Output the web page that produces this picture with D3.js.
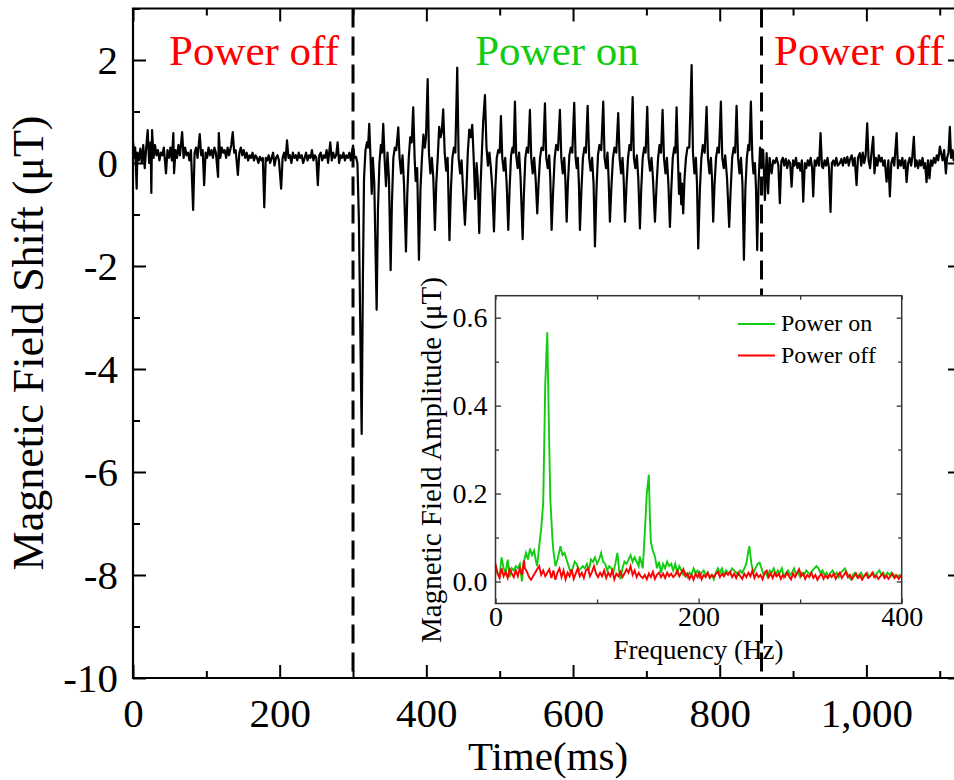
<html>
<head>
<meta charset="utf-8">
<style>
  body { margin: 0; background: #fff; }
  text { font-family: 'Liberation Serif', 'Times New Roman', serif; }
</style>
</head>
<body>
<div id="chart"></div>
<script src="https://cdn.jsdelivr.net/npm/d3@7"></script>
<script>
// main trace, [time ms, field µT]
var offBefore = [[0,0.42],[2,0.1],[3,0.3],[5,-0.5],[6,0.2],[8,0.05],[10,0.28],[12,0.0],[14,0.35],[16,-0.1],[18,0.3],[20,0.64],[22,0.0],[24,0.4],[25,-0.58],[26,0.64],[28,0.1],[30,0.35],[32,0.15],[34,0.25],[36,0.05],[38,0.2],[40,0.15],[42,0.3],[45,-0.2],[47,0.25],[49,0.1],[51,0.3],[53,0.05],[55,0.58],[56,-0.2],[58,0.25],[60,0.1],[62,0.35],[64,0.15],[67,0.6],[69,0.1],[71,0.3],[73,0.15],[75,0.2],[77,0.05],[79,0.25],[82,-0.91],[84,0.2],[86,0.3],[88,0.1],[91,0.56],[93,0.15],[95,0.25],[97,-0.43],[99,0.2],[101,0.1],[103,0.3],[105,0.15],[107,0.25],[109,0.1],[111,0.3],[113,0.2],[116,-0.27],[117,0.58],[119,0.1],[121,0.3],[123,0.2],[125,0.25],[127,0.1],[129,0.3],[131,0.15],[134,0.35],[136,0.6],[138,0.2],[140,0.25],[143,-0.23],[145,0.2],[147,0.3],[149,0.15],[151,0.25],[153,0.1],[155,0.2],[157,0.05],[159,0.15],[161,0.1],[163,0.2],[165,0.05],[167,0.15],[169,0.1],[171,0.0],[173,0.12],[175,0.05],[177,0.1],[179,-0.86],[181,0.1],[183,0.05],[185,0.15],[187,0.0],[189,0.1],[191,0.2],[193,-0.05],[195,0.1],[197,0.15],[199,0.05],[202,-0.5],[204,0.1],[206,0.2],[208,0.05],[210,0.44],[212,0.1],[214,0.15],[216,0.0],[218,0.2],[220,0.1],[222,0.15],[224,0.05],[226,0.2],[228,0.1],[230,0.15],[232,0.0],[234,0.1],[236,0.2],[238,0.05],[240,0.15],[242,0.1],[244,0.25],[246,0.05],[248,0.15],[250,0.1],[252,-0.43],[254,0.15],[256,0.2],[258,0.05],[260,0.15],[262,0.1],[264,0.25],[266,0.0],[269,0.4],[271,0.05],[273,0.2],[275,0.1],[277,0.15],[279,0.4],[281,0.0],[283,0.15],[285,0.1],[287,0.2],[289,0.05],[291,0.15],[293,0.1],[295,0.2],[297,0.05],[300,0.34],[302,0.1],[304,0.12],[306,0.0]];

var powerOn = [[308,-1.1],[311.8,-5.26],[313.5,-2.2],[315,-0.3],[317,0.25],[319,0.4],[320.5,0.3],[322.1,0.76],[324,0.05],[325.5,-0.6],[327,0.1],[329,-0.4],[332.2,-2.85],[334,-0.9],[336,0.0],[338,0.35],[339.5,0.2],[341.2,0.76],[343,0.1],[345,-0.45],[347,0.2],[349,-0.3],[351.3,-2.08],[353,-0.8],[355,0.1],[357,0.3],[359,0.25],[361.7,0.69],[363.5,0.1],[365.5,-0.2],[367.5,0.15],[369.5,-0.4],[372.2,-1.72],[374,-0.6],[376,0.1],[378,0.5],[380,0.4],[382.1,1.08],[384,0.1],[385.5,-0.35],[387.5,-0.1],[389.9,-1.88],[392,-0.5],[394,0.1],[396,0.55],[398,0.3],[399.5,0.5],[401.8,1.63],[403.5,0.2],[405.5,-0.2],[407.5,0.1],[409.5,-0.3],[411.7,-1.3],[413.5,-0.4],[415.5,0.1],[417.5,0.7],[419.5,0.5],[421,0.6],[423,1.04],[425,0.2],[427,-0.15],[429,0.1],[431.5,-1.5],[433.5,-0.5],[435.5,0.1],[437.5,0.3],[439.5,0.2],[442.1,1.85],[444,0.1],[446,-0.2],[448,0.05],[450,-0.5],[452.6,-1.2],[454.5,-0.6],[456.5,0.2],[458.5,0.65],[460.5,0.5],[462.6,0.74],[464.5,0.1],[466.5,-0.7],[468.5,0.0],[470,-0.3],[472.1,-1.36],[474,-0.4],[476,0.3],[477.5,0.8],[479.9,1.32],[482,0.3],[484,-0.05],[486,0.2],[488,-0.1],[490,-0.5],[492.2,-1.33],[494,-0.5],[496,0.1],[498,0.25],[500,0.2],[501.7,0.91],[503.5,0.1],[505.5,-0.15],[507.5,0.1],[509.5,-0.4],[511.7,-1.3],[513.5,-0.5],[515.5,0.15],[517.5,0.3],[519,0.2],[520.8,1.19],[522.5,0.15],[524.5,-0.1],[526.5,0.2],[528.5,-0.3],[531.3,-1.48],[533,-0.6],[535,0.1],[537,0.3],[539,0.2],[541.2,1.03],[543,0.1],[545,-0.2],[547,0.1],[549,-0.3],[551.2,-0.98],[553,-0.4],[555,0.1],[557,0.3],[559.5,0.25],[561.7,1.16],[563.5,0.1],[565.5,-0.1],[567.5,0.15],[569,-0.3],[570.8,-1.3],[573,-0.5],[575,0.1],[577,0.35],[579.5,0.25],[582.1,1.03],[584,0.1],[586,-0.2],[588,0.1],[589.5,-0.3],[591.3,-1.14],[593,-0.4],[595,0.15],[597,0.3],[599,0.2],[601.6,1.17],[603.5,0.1],[605,-0.1],[606.5,0.1],[608,-0.4],[609.4,-1.3],[611.5,-0.5],[613.5,0.1],[615.5,0.3],[617.5,0.2],[619.9,1.11],[622,0.1],[624,-0.15],[626,0.1],[628,-0.4],[629.9,-1.62],[632,-0.5],[634,0.15],[636,0.35],[638.5,0.25],[641.2,1.19],[643,0.1],[645,-0.1],[647,0.2],[648.5,-0.3],[650.3,-1.14],[652.5,-0.4],[654.5,0.1],[656.5,0.3],[659,0.2],[661.6,0.97],[663.5,0.1],[665.5,-0.2],[667.5,0.1],[669,-0.3],[670.8,-1.14],[673,-0.4],[675,0.1],[677,0.35],[679,0.25],[681.3,1.28],[683,0.1],[685,-0.1],[687,0.15],[689,-0.3],[691.2,-1.27],[693,-0.5],[695,0.1],[697,0.3],[699,0.2],[701.2,1.09],[703,0.1],[705,-0.15],[707,0.1],[709,-0.3],[711.7,-1.14],[714,-0.4],[716,0.1],[718,0.35],[720,0.2],[722.1,1.03],[724,0.1],[726,-0.2],[728,0.1],[730,-0.4],[732.1,-1.24],[734,-0.5],[736,0.1],[738,0.3],[739.5,0.2],[741.2,1.08],[743,0.1],[744.5,-0.6],[746,-0.2],[747.5,-0.8],[748.5,-0.4],[750.2,-0.98],[752,-0.3],[754,0.1],[756,0.3],[758.5,0.3],[761.7,1.9],[763.5,0.2],[765.5,-0.2],[767.5,0.1],[769,-0.4],[770.7,-1.66],[773,-0.5],[775,0.1],[777,0.35],[779.5,0.2],[782.1,1.09],[784,0.1],[786,-0.2],[788,0.1],[789.5,-0.3],[791.1,-1.14],[793,-0.4],[795,0.1],[797,0.3],[799,0.2],[801.6,1.19],[803.5,0.1],[805.5,-0.1],[807.5,0.15],[810,-0.3],[812.9,-1.24],[815,-0.5],[817,0.1],[819,0.3],[821,0.2],[823,1.11],[825,0.1],[827,-0.2],[829,0.1],[831,-0.4],[833,-1.88],[835,-0.5],[837,0.1],[839,0.35],[840.5,0.25],[842.5,1.19],[844.5,0.1],[846,-0.2],[848,0.0],[849.5,-0.5],[851.1,-1.69],[853,-0.4],[855,0.3],[857,-0.1]];

var offAfter = [[859.3,0.25],[861.6,-0.72],[864,0.19],[866,-0.59],[868,0.1],[870.7,-0.2],[873,0.05],[875.3,0.0],[877.5,0.1],[880,-0.05],[882,-0.78],[884,0.03],[886,0.1],[888,-0.05],[890,0.08],[892,-0.1],[894,0.05],[896,0.0],[898,-0.46],[900,0.05],[902,-0.05],[904,0.1],[906,-0.1],[908,0.0],[910,-0.15],[912,0.05],[913.9,-0.75],[916,0.0],[918,-0.1],[920,0.05],[922,-0.05],[924,0.1],[926,-0.1],[927.5,-0.65],[929.5,0.05],[931.5,-0.05],[933.5,0.1],[935.5,-0.05],[937.5,0.58],[939.5,-0.07],[941,-0.1],[943,0.05],[945,-0.05],[947,0.1],[949,-0.1],[951.1,-0.95],[953,0.0],[955,0.05],[957,-0.05],[959,0.1],[961,-0.05],[963.9,0.0],[966,0.08],[968,-0.05],[970,0.1],[972,0.0],[974,0.12],[976,-0.05],[977.5,0.06],[980,0.15],[982,-0.05],[984,0.1],[986.6,-0.43],[988.5,0.1],[991.1,0.19],[993,-0.05],[995,0.2],[997,0.0],[999,0.15],[1001.1,0.77],[1003,0.05],[1005,-0.1],[1007,0.2],[1009.3,0.51],[1011,-0.2],[1013,0.1],[1015,-0.05],[1017,0.15],[1019.3,0.03],[1021,0.1],[1023,-0.05],[1025,0.05],[1027.5,-0.36],[1030,0.05],[1032,-0.65],[1034,0.0],[1036,0.1],[1038,-0.05],[1041.2,0.58],[1043,-0.1],[1045,0.05],[1047,-0.05],[1049,0.1],[1051,-0.1],[1053,0.05],[1054.8,-0.37],[1057,0.0],[1059,0.1],[1061,-0.05],[1062.5,0.1],[1064.7,0.51],[1066.5,-0.07],[1068.5,0.05],[1070.5,-0.1],[1072.5,0.05],[1074.5,-0.05],[1076.5,0.1],[1078.5,-0.1],[1080,0.0],[1082,-0.37],[1084,0.05],[1086,-0.3],[1088,0.05],[1090,-0.05],[1092,0.1],[1094,0.0],[1096,0.15],[1098,0.05],[1100.2,0.32],[1102,0.19],[1104,0.05],[1106,0.25],[1108.4,-0.2],[1110,0.1],[1112,0.2],[1113.8,0.7],[1115.5,0.1],[1117,0.25],[1119,0.05],[1121,0.3],[1123,0.1],[1125,0.2]];

// inset spectra, [frequency Hz, amplitude µT]
var specOn = [[0,0.035],[2,0.02],[4,0.012],[6,0.055],[8,0.03],[10,0.02],[12,0.05],[14,0.01],[16,0.03],[18,0.025],[20,0.035],[22,0.03],[24,0.04],[26,0.0],[28,0.045],[30,0.065],[32,0.05],[34,0.075],[36,0.06],[38,0.07],[40,0.045],[41,0.035],[43,0.08],[45,0.12],[47,0.18],[49,0.45],[51,0.567],[53,0.3],[54,0.186],[56,0.1],[57,0.07],[59,0.035],[61,0.05],[63,0.07],[64,0.08],[66,0.06],[68,0.065],[70,0.05],[72,0.035],[74,0.02],[76,0.03],[78,0.045],[80,0.04],[82,0.025],[84,0.03],[86,0.035],[88,0.03],[90,0.04],[92,0.025],[94,0.05],[96,0.045],[98,0.055],[100,0.04],[102,0.05],[104,0.065],[106,0.045],[108,0.04],[110,0.025],[112,0.035],[114,0.03],[116,0.02],[118,0.04],[120,0.065],[122,0.02],[123,0.005],[125,0.03],[127,0.045],[129,0.04],[131,0.05],[133,0.06],[135,0.045],[137,0.055],[139,0.045],[141,0.035],[142,0.057],[144,0.04],[145,0.03],[147,0.11],[149,0.2],[151,0.243],[152,0.15],[153,0.09],[155,0.07],[157,0.057],[159,0.03],[161,0.045],[163,0.02],[165,0.04],[167,0.03],[169,0.045],[171,0.035],[173,0.04],[175,0.025],[177,0.04],[179,0.02],[181,0.035],[183,0.025],[185,0.015],[187,0.02],[189,0.01],[191,0.02],[193,0.015],[195,0.03],[197,0.02],[199,0.025],[201,0.01],[203,0.02],[205,0.025],[207,0.015],[209,0.02],[211,0.01],[213,0.015],[215,0.005],[217,0.02],[219,0.03],[221,0.02],[223,0.03],[225,0.015],[227,0.025],[229,0.02],[231,0.02],[233,0.03],[235,0.025],[237,0.02],[239,0.015],[241,0.025],[243,0.02],[245,0.03],[247,0.04],[249,0.07],[250,0.08],[252,0.04],[254,0.02],[256,0.03],[258,0.04],[260,0.043],[262,0.03],[264,0.015],[266,0.02],[268,0.01],[270,0.025],[272,0.02],[274,0.03],[276,0.015],[278,0.025],[280,0.02],[282,0.03],[284,0.01],[286,0.02],[288,0.025],[290,0.015],[292,0.02],[294,0.03],[296,0.015],[298,0.02],[300,0.01],[302,0.02],[304,0.015],[306,0.025],[308,0.02],[310,0.015],[312,0.025],[314,0.03],[316,0.035],[318,0.03],[320,0.02],[322,0.025],[324,0.015],[326,0.02],[328,0.01],[330,0.02],[332,0.025],[334,0.015],[336,0.02],[338,0.01],[340,0.02],[342,0.025],[344,0.03],[346,0.02],[348,0.01],[350,0.005],[352,0.015],[354,0.02],[356,0.01],[358,0.015],[360,0.02],[362,0.01],[364,0.015],[366,0.02],[368,0.01],[370,0.015],[372,0.02],[374,0.01],[376,0.02],[378,0.025],[380,0.015],[382,0.02],[384,0.01],[386,0.02],[388,0.015],[390,0.02],[392,0.01],[394,0.015],[396,0.01],[398,0.015],[400,0.01]];

var specOff = [[0,0.04],[2,0.018],[4,0.008],[6,0.03],[8,0.012],[10,0.022],[12,0.008],[14,0.028],[16,0.018],[18,0.01],[20,0.025],[22,0.012],[24,0.03],[26,0.015],[28,0.048],[29,0.03],[31,0.022],[33,0.01],[35,0.004],[37,0.012],[39,0.02],[41,0.028],[43,0.035],[45,0.015],[47,0.025],[49,0.012],[51,0.02],[53,0.028],[55,0.008],[57,0.025],[59,0.004],[61,0.02],[63,0.03],[65,0.01],[67,0.025],[69,0.005],[71,0.02],[73,0.012],[75,0.028],[77,0.006],[79,0.018],[81,0.03],[83,0.012],[85,0.02],[87,0.008],[89,0.025],[91,0.03],[93,0.012],[95,0.022],[97,0.035],[99,0.018],[101,0.01],[103,0.02],[105,0.012],[107,0.025],[109,0.008],[111,0.02],[113,0.012],[115,0.025],[117,0.005],[119,0.018],[121,0.012],[123,0.022],[125,0.01],[127,0.018],[129,0.028],[131,0.02],[133,0.035],[135,0.015],[137,0.025],[139,0.01],[141,0.02],[143,0.012],[145,0.008],[147,0.015],[149,0.005],[151,0.018],[153,0.01],[155,0.022],[157,0.006],[159,0.015],[161,0.02],[163,0.01],[165,0.018],[167,0.008],[169,0.02],[171,0.012],[173,0.018],[175,0.01],[177,0.015],[179,0.025],[181,0.012],[183,0.02],[185,0.028],[187,0.012],[189,0.018],[191,0.006],[193,0.015],[195,0.004],[197,0.018],[199,0.01],[201,0.02],[203,0.005],[205,0.015],[207,0.01],[209,0.02],[211,0.008],[213,0.015],[215,0.01],[217,0.018],[219,0.022],[221,0.01],[223,0.018],[225,0.012],[227,0.02],[229,0.015],[231,0.022],[233,0.01],[235,0.018],[237,0.008],[239,0.02],[241,0.012],[243,0.006],[245,0.018],[247,0.01],[249,0.02],[251,0.012],[253,0.025],[255,0.008],[257,0.018],[259,0.01],[261,0.015],[263,0.005],[265,0.02],[267,0.025],[269,0.01],[271,0.018],[273,0.008],[275,0.02],[277,0.012],[279,0.018],[281,0.006],[283,0.015],[285,0.01],[287,0.02],[289,0.012],[291,0.005],[293,0.018],[295,0.01],[297,0.02],[299,0.028],[301,0.012],[303,0.018],[305,0.006],[307,0.015],[309,0.01],[311,0.02],[313,0.008],[315,0.015],[317,0.004],[319,0.012],[321,0.018],[323,0.006],[325,0.014],[327,0.008],[329,0.016],[331,0.01],[333,0.018],[335,0.006],[337,0.014],[339,0.02],[341,0.008],[343,0.015],[345,0.022],[347,0.01],[349,0.015],[351,0.005],[353,0.012],[355,0.018],[357,0.008],[359,0.014],[361,0.004],[363,0.012],[365,0.018],[367,0.008],[369,0.012],[371,0.02],[373,0.01],[375,0.014],[377,0.006],[379,0.012],[381,0.018],[383,0.008],[385,0.014],[387,0.006],[389,0.012],[391,0.018],[393,0.008],[395,0.014],[397,0.006],[399,0.012],[400,0.01]];

var switchTimes = [300, 857];
var regionLabels = ['Power off', 'Power on', 'Power off'];
var mainXTicks = [0, 200, 400, 600, 800, 1000];
var mainXMinor = [100, 300, 500, 700, 900, 1100];
var mainYTicks = [-10, -8, -6, -4, -2, 0, 2];
var mainYMinor = [-9, -7, -5, -3, -1, 1, 3];
var insetXTicks = [0, 200, 400];
var insetXMinor = [100, 300];
var insetYTicks = [0, 0.2, 0.4, 0.6];
var insetYMinor = [0.1, 0.3, 0.5];
var seriesNames = ['Power on', 'Power off'];

var W = 954, H = 780;
var green = '#11cc11', red = '#ff0000';

var svg = d3.select('#chart').append('svg')
  .attr('width', W)
  .attr('height', H);

// main scales
var x = d3.scaleLinear().domain([0, 1129]).range([133, 961]);
var y = d3.scaleLinear().domain([-10, 3]).range([678, 8.5]);

svg.append('clipPath').attr('id', 'mainClip')
  .append('rect')
  .attr('x', 133).attr('y', 8.5)
  .attr('width', 961 - 133).attr('height', 678 - 8.5);

// dashed switch lines
svg.selectAll('line.switch')
  .data(switchTimes)
  .enter()
  .append('line')
  .attr('class', 'switch')
  .attr('x1', function(d){ return x(d); })
  .attr('x2', function(d){ return x(d); })
  .attr('y1', y(3))
  .attr('y2', y(-10))
  .attr('stroke', 'black')
  .attr('stroke-width', 3)
  .attr('stroke-dasharray', '19,9');

var trace = offBefore.concat(powerOn, offAfter);
var line = d3.line()
  .x(function(d){ return x(d[0]); })
  .y(function(d){ return y(d[1]); });

svg.append('path')
  .datum(trace)
  .attr('clip-path', 'url(#mainClip)')
  .attr('d', line)
  .attr('fill', 'none')
  .attr('stroke', 'black')
  .attr('stroke-width', 2.2)
  .attr('stroke-linejoin', 'round');

// main axes, ticks point inward
function styleAxis(g, fontSize){
  g.select('.domain').remove();
  g.selectAll('line').attr('stroke', 'black').attr('stroke-width', 2);
  g.selectAll('text')
    .attr('fill', 'black')
    .style('font-family', "'Liberation Serif', 'Times New Roman', serif")
    .style('font-size', fontSize + 'px');
}

var gx = svg.append('g').attr('transform', 'translate(0,678)')
  .call(d3.axisBottom(x).tickValues(mainXTicks).tickSize(-13).tickSizeOuter(0)
    .tickFormat(d3.format(',')));
styleAxis(gx, 41);
gx.selectAll('text').attr('y', 49).attr('dy', 0);

var gxm = svg.append('g').attr('transform', 'translate(0,678)')
  .call(d3.axisBottom(x).tickValues(mainXMinor).tickSize(-7).tickSizeOuter(0).tickFormat(''));
styleAxis(gxm, 41);

var gxt = svg.append('g').attr('transform', 'translate(0,8.5)')
  .call(d3.axisTop(x).tickValues(mainXTicks).tickSize(-13).tickSizeOuter(0).tickFormat(''));
styleAxis(gxt, 41);
var gxtm = svg.append('g').attr('transform', 'translate(0,8.5)')
  .call(d3.axisTop(x).tickValues(mainXMinor).tickSize(-7).tickSizeOuter(0).tickFormat(''));
styleAxis(gxtm, 41);

var gy = svg.append('g').attr('transform', 'translate(133,0)')
  .call(d3.axisLeft(y).tickValues(mainYTicks).tickSize(-13).tickSizeOuter(0).tickPadding(15)
    .tickFormat(function(d){ return String(d); }));
styleAxis(gy, 41);
gy.selectAll('text').attr('dy', '0.34em');

var gym = svg.append('g').attr('transform', 'translate(133,0)')
  .call(d3.axisLeft(y).tickValues(mainYMinor).tickSize(-7).tickSizeOuter(0).tickFormat(''));
styleAxis(gym, 41);

var gyr = svg.append('g').attr('transform', 'translate(961,0)')
  .call(d3.axisRight(y).tickValues(mainYTicks).tickSize(-13).tickSizeOuter(0).tickFormat(''));
styleAxis(gyr, 41);
var gyrm = svg.append('g').attr('transform', 'translate(961,0)')
  .call(d3.axisRight(y).tickValues(mainYMinor).tickSize(-7).tickSizeOuter(0).tickFormat(''));
styleAxis(gyrm, 41);

// frame
svg.append('path')
  .attr('d', 'M961,8.5H133V678H961')
  .attr('fill', 'none')
  .attr('stroke', 'black')
  .attr('stroke-width', 2.2);

// axis titles
svg.append('text')
  .attr('x', 548).attr('y', 770)
  .attr('text-anchor', 'middle')
  .style('font-size', '41px')
  .text('Time(ms)');

svg.append('text')
  .attr('transform', 'translate(43,343) rotate(-90)')
  .attr('text-anchor', 'middle')
  .style('font-size', '44px')
  .text('Magnetic Field Shift (\u03bcT)');

// region labels
var labelX = [254, 557, 859];
svg.selectAll('text.region')
  .data(regionLabels)
  .enter()
  .append('text')
  .attr('class', 'region')
  .attr('x', function(d, i){ return labelX[i]; })
  .attr('y', 65)
  .attr('text-anchor', 'middle')
  .attr('fill', function(d){ return d === 'Power on' ? green : red; })
  .style('font-size', '43px')
  .text(function(d){ return d; });

// ---------- inset ----------
var xi = d3.scaleLinear().domain([0, 400]).range([495.5, 901.7]);
var yi = d3.scaleLinear().domain([-0.05, 0.65]).range([603.5, 295.7]);

svg.append('rect')
  .attr('x', 495.5).attr('y', 295.7)
  .attr('width', 901.7 - 495.5).attr('height', 603.5 - 295.7)
  .attr('fill', 'white');

var lineIn = d3.line()
  .x(function(d){ return xi(d[0]); })
  .y(function(d){ return yi(d[1]); });

svg.append('path').datum(specOn)
  .attr('d', lineIn).attr('fill', 'none')
  .attr('stroke', green).attr('stroke-width', 1.9);
svg.append('path').datum(specOff)
  .attr('d', lineIn).attr('fill', 'none')
  .attr('stroke', red).attr('stroke-width', 1.9);

function styleInset(g){
  g.select('.domain').remove();
  g.selectAll('line').attr('stroke', '#333').attr('stroke-width', 1.3);
  g.selectAll('text')
    .attr('fill', 'black')
    .style('font-family', "'Liberation Serif', 'Times New Roman', serif")
    .style('font-size', '28px');
}

var ix = svg.append('g').attr('transform', 'translate(0,603.5)')
  .call(d3.axisBottom(xi).tickValues(insetXTicks).tickSize(-5).tickSizeOuter(0)
    .tickFormat(d3.format('d')));
styleInset(ix);
ix.selectAll('text').attr('y', 22.5).attr('dy', 0);
var ixm = svg.append('g').attr('transform', 'translate(0,603.5)')
  .call(d3.axisBottom(xi).tickValues(insetXMinor).tickSize(-4).tickSizeOuter(0).tickFormat(''));
styleInset(ixm);
var ixt = svg.append('g').attr('transform', 'translate(0,295.7)')
  .call(d3.axisTop(xi).tickValues(insetXTicks.concat(insetXMinor)).tickSize(-4).tickSizeOuter(0).tickFormat(''));
styleInset(ixt);

var iy = svg.append('g').attr('transform', 'translate(495.5,0)')
  .call(d3.axisLeft(yi).tickValues(insetYTicks).tickSize(-5.5).tickSizeOuter(0).tickPadding(8)
    .tickFormat(d3.format('.1f')));
styleInset(iy);
var iym = svg.append('g').attr('transform', 'translate(495.5,0)')
  .call(d3.axisLeft(yi).tickValues(insetYMinor).tickSize(-3.5).tickSizeOuter(0).tickFormat(''));
styleInset(iym);
var iyr = svg.append('g').attr('transform', 'translate(901.7,0)')
  .call(d3.axisRight(yi).tickValues(insetYTicks).tickSize(-5).tickSizeOuter(0).tickFormat(''));
styleInset(iyr);
var iyrm = svg.append('g').attr('transform', 'translate(901.7,0)')
  .call(d3.axisRight(yi).tickValues(insetYMinor).tickSize(-3.5).tickSizeOuter(0).tickFormat(''));
styleInset(iyrm);

svg.append('rect')
  .attr('x', 495.5).attr('y', 295.7)
  .attr('width', 901.7 - 495.5).attr('height', 603.5 - 295.7)
  .attr('fill', 'none')
  .attr('stroke', '#333')
  .attr('stroke-width', 1.5);

svg.append('text')
  .attr('x', 698.5).attr('y', 659)
  .attr('text-anchor', 'middle')
  .style('font-size', '27px')
  .text('Frequency (Hz)');

svg.append('text')
  .attr('transform', 'translate(441,460) rotate(-90)')
  .attr('text-anchor', 'middle')
  .style('font-size', '29px')
  .text('Magnetic Field Amplitude (\u03bcT)');

// legend
var legend = svg.selectAll('g.legend')
  .data(seriesNames)
  .enter()
  .append('g')
  .attr('class', 'legend')
  .attr('transform', function(d, i){ return 'translate(0,' + (324 + i * 31.5) + ')'; });
legend.append('line')
  .attr('x1', 738).attr('x2', 775)
  .attr('y1', 0).attr('y2', 0)
  .attr('stroke', function(d, i){ return i === 0 ? green : red; })
  .attr('stroke-width', 2);
legend.append('text')
  .attr('x', 781).attr('y', 7)
  .style('font-size', '24px')
  .text(function(d){ return d; });
</script>
</body>
</html>
